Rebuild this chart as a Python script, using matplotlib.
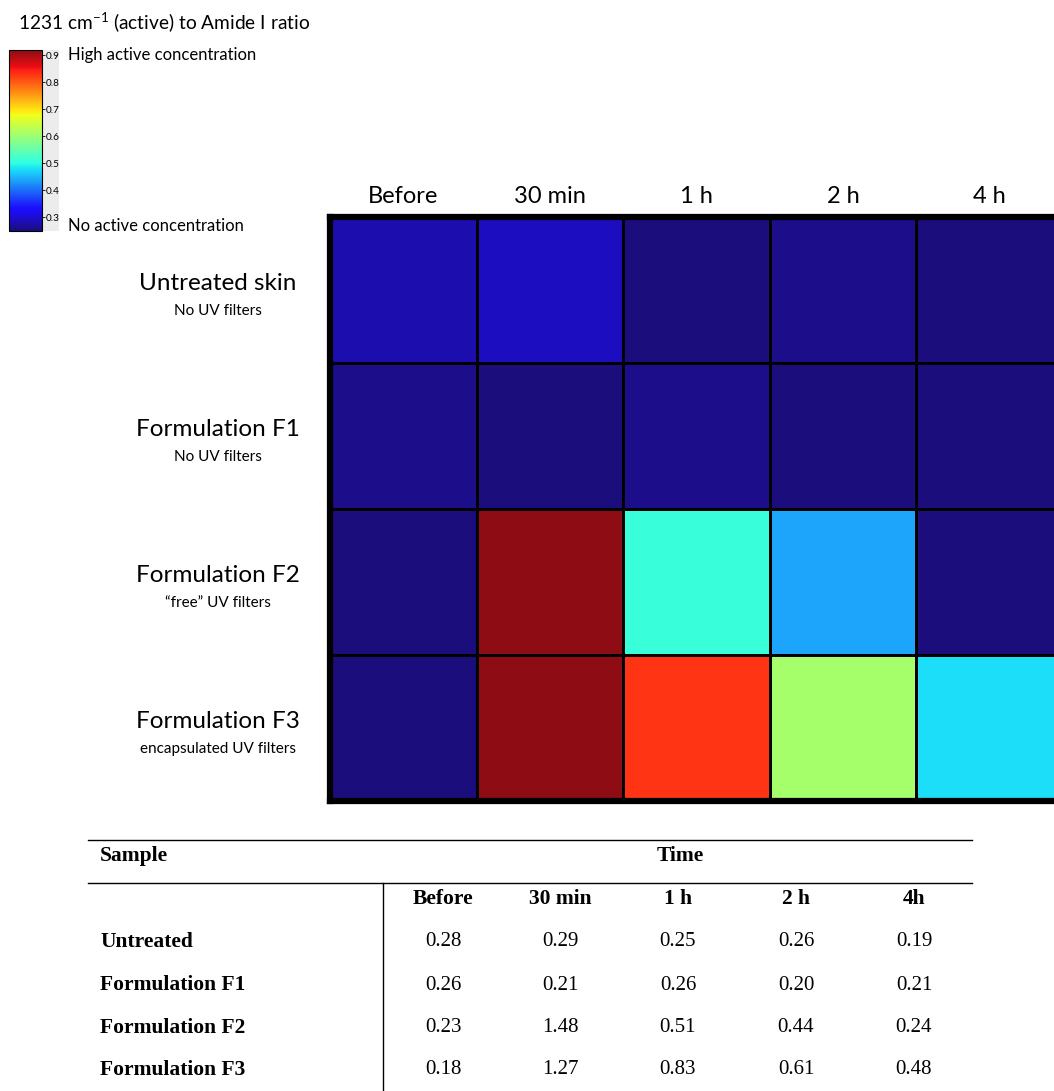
import numpy as np
import matplotlib
matplotlib.use("Agg")
import matplotlib.pyplot as plt
from matplotlib.colors import Normalize, ListedColormap
from matplotlib.patches import Rectangle
from matplotlib.lines import Line2D

plt.rcParams['font.family'] = ['Lato', 'DejaVu Sans']
plt.rcParams['mathtext.fontset'] = 'custom'
plt.rcParams['mathtext.rm'] = 'Lato'
plt.rcParams['mathtext.it'] = 'Lato:italic'

# ---- data ----
time_labels = ["Before", "30 min", "1 h", "2 h", "4 h"]
table_time_labels = ["Before", "30 min", "1 h", "2 h", "4h"]
sample_labels = ["Untreated skin", "Formulation F1", "Formulation F2", "Formulation F3"]
sample_sublabels = ["No UV filters", "No UV filters", "\u201cfree\u201d UV filters", "encapsulated UV filters"]
table_row_labels = ["Untreated", "Formulation F1", "Formulation F2", "Formulation F3"]
untreated = [0.28, 0.29, 0.25, 0.26, 0.19]
formulation_f1 = [0.26, 0.21, 0.26, 0.20, 0.21]
formulation_f2 = [0.23, 1.48, 0.51, 0.44, 0.24]
formulation_f3 = [0.18, 1.27, 0.83, 0.61, 0.48]
cbar_ticks = [0.3, 0.4, 0.5, 0.6, 0.7, 0.8, 0.9]
vmin, vmax = 0.25, 0.92

values = np.array([untreated, formulation_f1, formulation_f2, formulation_f3])

W, H = 1054, 1091
fig = plt.figure(figsize=(W / 100, H / 100), dpi=100)
fig.patch.set_facecolor("white")


def rect(x0, y0, x1, y1):
    return [x0 / W, 1 - y1 / H, (x1 - x0) / W, (y1 - y0) / H]


def fx(x):
    return x / W


def fy(y):
    return 1 - y / H


# slightly softened jet, as in the reference image
base = plt.get_cmap("jet")(np.linspace(0, 1, 256))[:, :3]
lift = np.array([0.11, 0.05, 0.08])
soft = base + lift * (1 - base)
soft[:, 2] = np.where(base[:, 0] < 0.05, base[:, 2] * 0.98, soft[:, 2])
cmap = ListedColormap(np.clip(soft, 0, 1))

# ---- heatmap ----
norm = Normalize(vmin=vmin, vmax=vmax)
ax = fig.add_axes(rect(330, 217, 1063, 801))
mesh = ax.pcolormesh(values, cmap=cmap, norm=norm, edgecolors="black", linewidth=1.0)
ax.set_xlim(0, values.shape[1])
ax.set_ylim(values.shape[0], 0)
ax.set_xticks([])
ax.set_yticks([])
for sp in ax.spines.values():
    sp.set_linewidth(4.5)
    sp.set_color("black")

col_w = (1063 - 330) / 5
for i, lab in enumerate(time_labels):
    fig.text(fx(330 + col_w * (i + 0.5)), fy(197), lab, ha="center", va="center", fontsize=17)

row_h = (801 - 217) / 4
for j, (lab, sub) in enumerate(zip(sample_labels, sample_sublabels)):
    cy = 217 + row_h * (j + 0.5)
    fig.text(fx(218), fy(cy - 6), lab, ha="center", va="center", fontsize=17.5)
    fig.text(fx(218), fy(cy + 21), sub, ha="center", va="center", fontsize=11)

# ---- colorbar ----
fig.patches.append(Rectangle((fx(42), fy(231)), fx(17), (231 - 50) / H,
                             transform=fig.transFigure, facecolor="#ececec", edgecolor="none", zorder=-1))
cax = fig.add_axes(rect(9, 50, 42, 231))
cb = fig.colorbar(mesh, cax=cax, ticks=cbar_ticks)
cb.outline.set_linewidth(0.8)
cax.tick_params(labelsize=7.2, length=2, width=0.6, pad=1)
cax.set_yticklabels([f"{t:.1f}" for t in cbar_ticks])

fig.text(fx(18), fy(22), "1231 cm$^{-1}$ (active) to Amide I ratio", ha="left", va="center", fontsize=13.8)
fig.text(fx(68), fy(55), "High active concentration", ha="left", va="center", fontsize=12)
fig.text(fx(68), fy(226), "No active concentration", ha="left", va="center", fontsize=12)

# ---- table ----
serif = ["Liberation Serif", "DejaVu Serif"]
fig.lines.append(Line2D([fx(88), fx(972)], [fy(840), fy(840)], transform=fig.transFigure, color="black", lw=1.0))
fig.lines.append(Line2D([fx(88), fx(972)], [fy(883), fy(883)], transform=fig.transFigure, color="black", lw=1.0))
fig.lines.append(Line2D([fx(383), fx(383)], [fy(883), fy(1091)], transform=fig.transFigure, color="black", lw=1.0))

fig.text(fx(100), fy(856), "Sample", ha="left", va="center", fontsize=15.5, fontweight="bold", family=serif)
fig.text(fx(680), fy(856), "Time", ha="center", va="center", fontsize=15.5, fontweight="bold", family=serif)
col_x = [443, 560, 678, 796, 914]
for x, lab in zip(col_x, table_time_labels):
    fig.text(fx(x), fy(899), lab, ha="center", va="center", fontsize=15.5, fontweight="bold", family=serif)
row_y = [942, 985, 1028, 1070]
for y, lab, row in zip(row_y, table_row_labels, values):
    fig.text(fx(100), fy(y), lab, ha="left", va="center", fontsize=15.5, fontweight="bold", family=serif)
    for x, v in zip(col_x, row):
        fig.text(fx(x), fy(y), f"{v:.2f}", ha="center", va="center", fontsize=15, family=serif)

fig.savefig("out.png", dpi=100)
